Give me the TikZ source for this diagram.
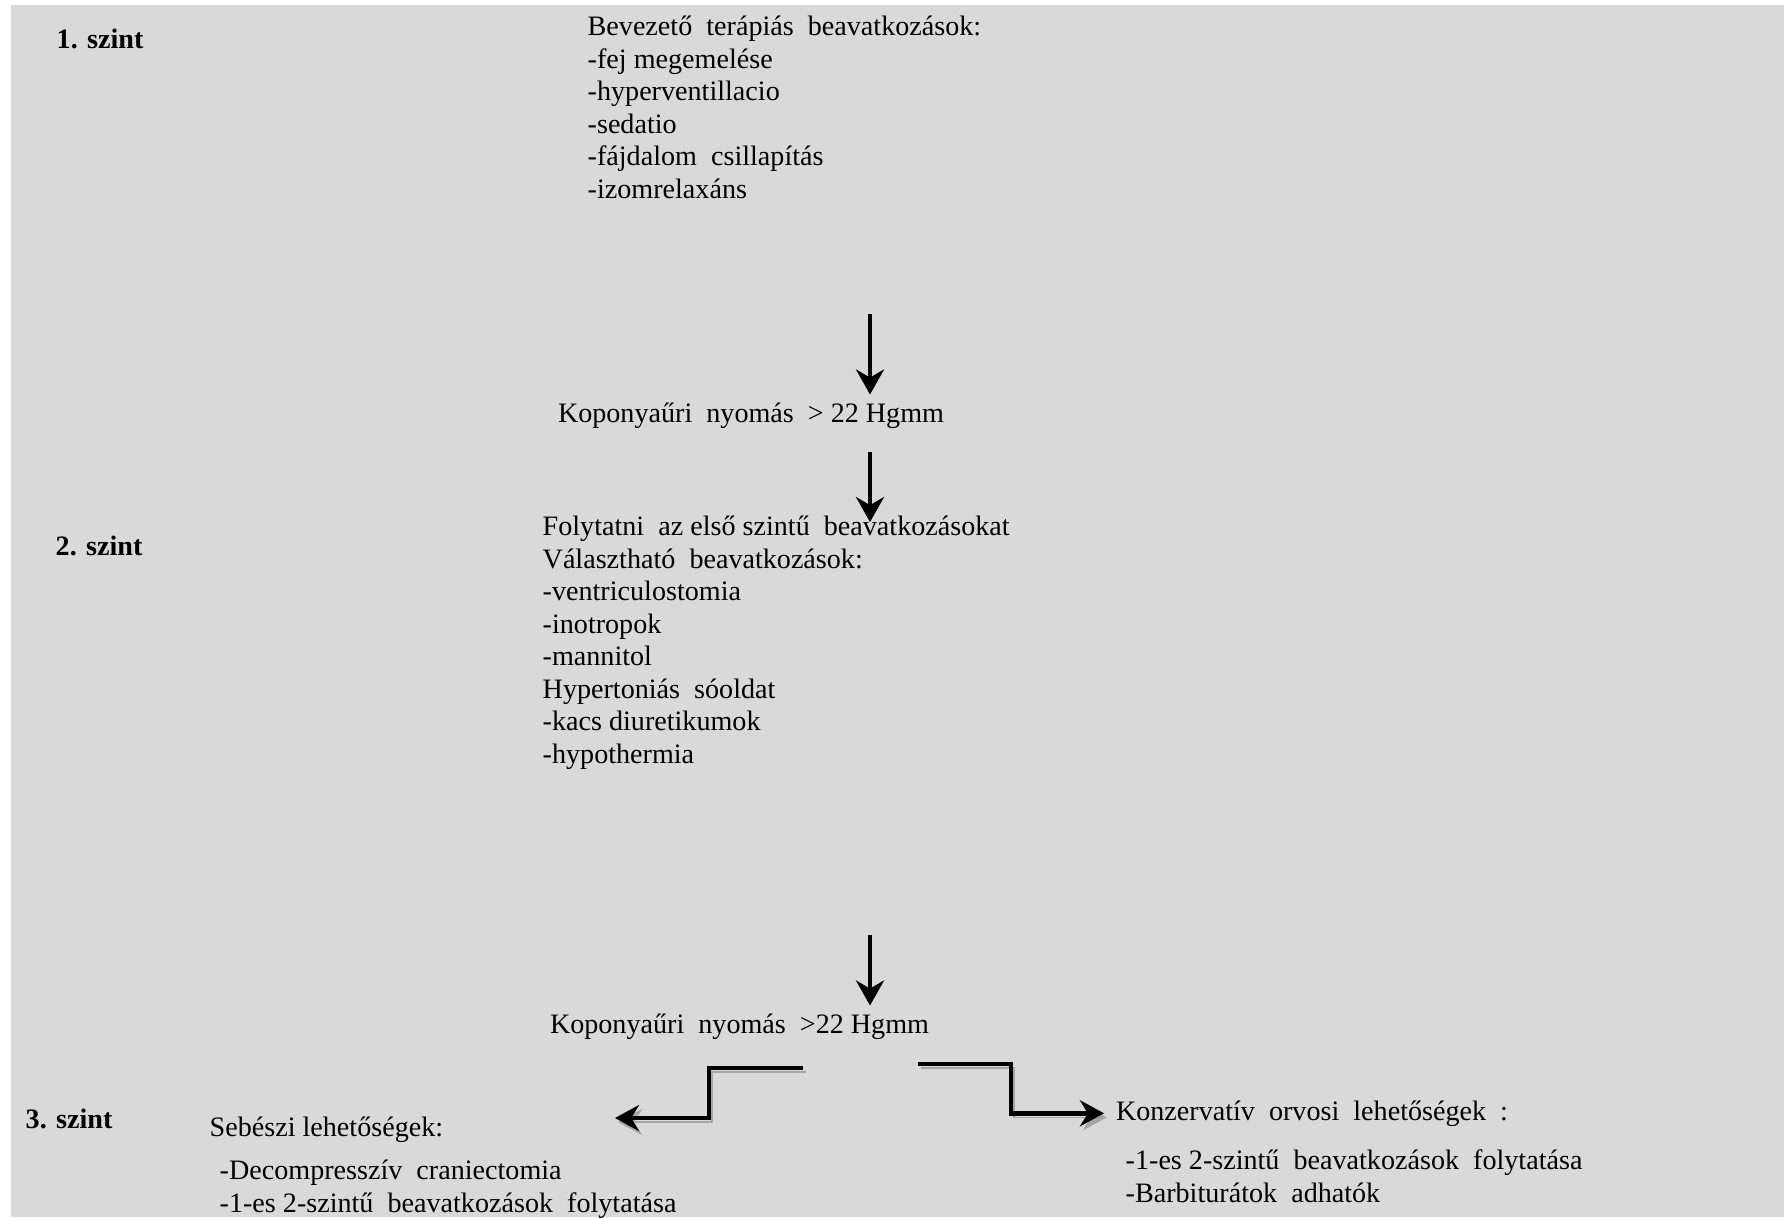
\documentclass[tikz,border=0pt]{standalone}
\usepackage{fontspec}
\setmainfont{Liberation Serif}
\usetikzlibrary{arrows.meta,positioning,calc}
\definecolor{bggray}{RGB}{217,217,217}
\definecolor{shadegray}{RGB}{165,165,165}
\tikzset{
    txt/.style={inner sep=0pt, align=left, font=\fontsize{8}{9.25}\selectfont},
    level/.style={inner sep=0pt, anchor=base west, font=\fontsize{8}{9.25}\selectfont\bfseries},
    icp/.style={inner sep=0pt, outer sep=0.08cm, anchor=base west, font=\fontsize{8}{9.25}\selectfont},
    down/.style={-{Stealth[length=2.5mm, width=2.8mm]}, line width=1.1pt},
    elbow/.style={-{Stealth[length=2.4mm, width=2.6mm]}, line width=1.3pt,
        preaction={draw=shadegray, transform canvas={shift={(0.03,-0.04)}}}}
}

\begin{document}
\begin{tikzpicture}
            \useasboundingbox (0,0) rectangle (17.85,-12.17);
            \fill[bggray] (0.11,-0.05) rectangle (17.84,-12.17);

            % Level 1
            \node[level] (s1) at (0.56,-0.48) {1. szint};
            \node[txt, anchor=north west] (lvl1) at (5.87,-0.14) {\rule{0pt}{6pt}Bevezető\ \ terápiás\ \ beavatkozások:\\
                -fej megemelése\\ -hyperventillacio\\ -sedatio\\ -fájdalom\ \ csillapítás\\ -izomrelaxáns};

            % ICP > 22
            \coordinate (a1) at (8.70,-3.14);
            \node[icp] (kp1) at (5.50,-4.22) {Koponyaűri\ \ nyomás\ \ > 22 Hgmm};
            \draw[down] (a1) -- (a1 |- kp1.north);

            % Level 2
            \node[level] (s2) at (0.55,-5.55) {2. szint};
            \node[txt, anchor=north west] (lvl2) at (5.42,-5.14) {\rule{0pt}{6pt}Folytatni\ \ az első szintű\ \ beavatkozásokat\\
                Választható\ \ beavatkozások:\\ -ventriculostomia\\ -inotropok\\ -mannitol\\
                Hypertoniás\ \ sóoldat\\ -kacs diuretikumok\\ -hypothermia};
            \coordinate (a2) at (8.70,-4.52);
            \draw[down] (a2) -- ([yshift=-0.08cm]a2 |- lvl2.north);

            % ICP > 22 again
            \coordinate (a3) at (8.70,-9.35);
            \node[icp] (kp2) at (5.42,-10.33) {Koponyaűri\ \ nyomás\ \ >22 Hgmm};
            \draw[down] (a3) -- (a3 |- kp2.north);

            % Level 3
            \node[level] (s3) at (0.25,-11.28) {3. szint};
            \node[txt, anchor=base west] (seb) at (2.09,-11.36) {Sebészi lehetőségek:};
            \node[txt, below=0.15cm of seb.south west, anchor=north west, xshift=0.1cm] (sebl)
                {\rule{0pt}{6pt}-Decompresszív\ \ craniectomia\\ -1-es 2-szintű\ \ beavatkozások\ \ folytatása};
            \node[txt, anchor=base west, outer sep=0.12cm] (konz) at (11.04,-11.2) {Konzervatív\ \ orvosi\ \ lehetőségek\ \ :};
            \node[txt, below=0.1cm of konz.south west, anchor=north west, xshift=0.21cm] (konzl)
                {\rule{0pt}{6pt}-1-es 2-szintű\ \ beavatkozások\ \ folytatása\\ -Barbiturátok\ \ adhatók};

            \coordinate (l0) at (8.03,-10.68);
            \coordinate (l1) at (6.15,-11.18);
            \draw[elbow] (l0) -| ($(l0)!.5!(l1)$) |- (l1);
            \coordinate (r0) at (9.18,-10.64);
            \draw[elbow] (r0) -| ($(r0)!.5!(konz.west)$) |- (konz.west);
        \end{tikzpicture}
\end{document}
